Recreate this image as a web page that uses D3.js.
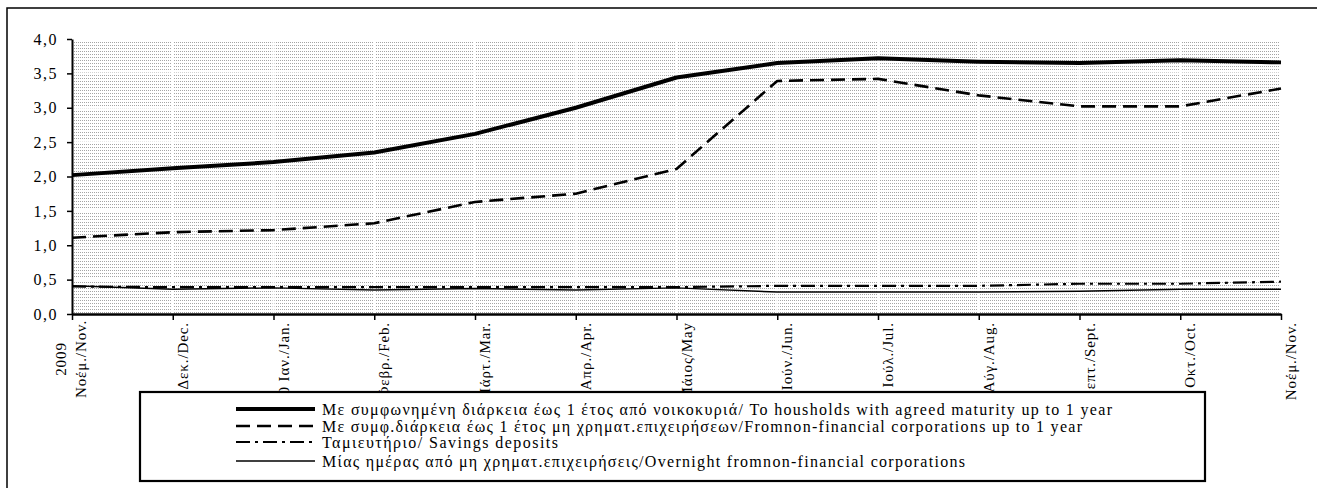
<!DOCTYPE html>
<html><head><meta charset="utf-8">
<script src="https://cdn.jsdelivr.net/npm/d3@7"></script>
<style>html,body{margin:0;padding:0;background:#fff;}svg{display:block;}svg text{font-family:"Liberation Serif","Times New Roman",serif;}</style>
</head><body><svg id="c" width="1317" height="488"></svg>
<script>
const categories = ["2009 Νοέμ./Nov.","Δεκ./Dec.","2010 Ιαν./Jan.","Φεβρ./Feb.","Μάρτ./Mar.","Απρ./Apr.","Μάιος/May","Ιούν./Jun.","Ιούλ./Jul.","Αύγ./Aug.","Σεπτ./Sept.","Οκτ./Oct.","Νοέμ./Nov."];
const households = [2.02, 2.12, 2.21, 2.35, 2.62, 3.00, 3.44, 3.65, 3.72, 3.67, 3.65, 3.69, 3.66];
const corporations = [1.11, 1.19, 1.22, 1.32, 1.63, 1.75, 2.11, 3.39, 3.42, 3.18, 3.02, 3.02, 3.28];
const savings = [0.40, 0.39, 0.39, 0.39, 0.39, 0.39, 0.39, 0.41, 0.41, 0.41, 0.44, 0.44, 0.47];
const overnight = [0.41, 0.36, 0.38, 0.35, 0.37, 0.35, 0.38, 0.32, 0.32, 0.32, 0.33, 0.36, 0.36];
const yTicks = [0, 0.5, 1, 1.5, 2, 2.5, 3, 3.5, 4];
const seriesNames = [
  "Με συμφωνημένη διάρκεια έως 1 έτος από νοικοκυριά/ To housholds with agreed maturity up to 1 year",
  "Με συμφ.διάρκεια έως 1 έτος μη χρηματ.επιχειρήσεων/Fromnon-financial corporations up to 1 year",
  "Ταμιευτήριο/ Savings deposits",
  "Μίας ημέρας από μη χρηματ.επιχειρήσεις/Overnight fromnon-financial corporations"
];

const FONT = "Liberation Serif";
const svg = d3.select("#c");
const L = 72, R = 1281, T = 39, B = 314;
const x = d3.scalePoint().domain(categories).range([L, R]);
const y = d3.scaleLinear().domain([0, 4]).range([B, T]);

// outer frame
svg.append("rect").attr("x", 7).attr("y", 8).attr("width", 1400).attr("height", 600)
  .attr("fill", "none").attr("stroke", "#000").attr("stroke-width", 1.5);

// dotted pattern
const defs = svg.append("defs");
const pat = defs.append("pattern").attr("id", "dots").attr("patternUnits", "userSpaceOnUse")
  .attr("width", 2).attr("height", 3);
pat.append("rect").attr("width", 2).attr("height", 3).attr("fill", "#fff");
pat.append("rect").attr("width", 1).attr("height", 1).attr("fill", "#a4a4a4");

svg.append("rect").attr("x", L).attr("y", T).attr("width", R - L).attr("height", B - T)
  .attr("fill", "url(#dots)");

// white gridlines
const g = svg.append("g");
g.selectAll(".vg").data(categories).join("line")
  .attr("x1", d => x(d)).attr("x2", d => x(d)).attr("y1", T).attr("y2", B)
  .attr("stroke", "#fff").attr("stroke-width", 2);
g.selectAll(".hg").data(yTicks).join("line")
  .attr("x1", L).attr("x2", R).attr("y1", d => y(d)).attr("y2", d => y(d))
  .attr("stroke", "#fff").attr("stroke-width", 2);

// series
const styles = [
  {data: households, w: 4, dash: null},
  {data: corporations, w: 2.6, dash: "14,7"},
  {data: savings, w: 2.2, dash: "14,5,3,5"},
  {data: overnight, w: 1.5, dash: null}
];
const line = d3.line().x((d, i) => x(categories[i])).y(d => y(d));
[3, 2, 1, 0].forEach(k => {
  const s = styles[k];
  svg.append("path").attr("d", line(s.data)).attr("fill", "none")
    .attr("stroke", "#000").attr("stroke-width", s.w)
    .attr("stroke-dasharray", s.dash).attr("stroke-linejoin", "round");
});

// y axis
const yAxis = d3.axisLeft(y).tickValues(yTicks).tickSize(5).tickSizeOuter(0)
  .tickFormat(d => d3.format(".1f")(d).replace(".", ","));
const ya = svg.append("g").attr("transform", `translate(${L},0)`).call(yAxis)
  .attr("font-family", FONT).attr("font-size", 16);
ya.select(".domain").attr("stroke-width", 2);
ya.selectAll(".tick line").attr("stroke-width", 1.5);
ya.selectAll("text").attr("font-size", 16).attr("font-family", FONT)
  .attr("fill", "#000").attr("x", -14).attr("letter-spacing", 1.5);

// x axis
const xAxis = d3.axisBottom(x).tickSize(6).tickSizeOuter(0).tickFormat("");
const xa = svg.append("g").attr("transform", `translate(0,${B})`).call(xAxis);
xa.select(".domain").attr("stroke-width", 2.5);
xa.selectAll(".tick line").attr("stroke-width", 1.5);

// x labels (rotated)
const xl = svg.append("g").attr("font-size", 15).attr("font-family", FONT)
  .attr("fill", "#000").attr("letter-spacing", 0.9);
categories.forEach((c, i) => {
  const cx = x(c);
  if (i === 0) {
    const parts = c.split(" ");
    xl.append("text").attr("transform", `translate(${cx - 11},359) rotate(-90)`)
      .attr("text-anchor", "middle").attr("dominant-baseline", "central").text(parts[0]);
    xl.append("text").attr("transform", `translate(${cx + 9},359) rotate(-90)`)
      .attr("text-anchor", "middle").attr("dominant-baseline", "central").text(parts[1]);
  } else {
    xl.append("text").attr("transform", `translate(${cx + 10},322) rotate(-90)`)
      .attr("text-anchor", "end").attr("dominant-baseline", "central").text(c);
  }
});

// legend
const lg = svg.append("g").attr("font-family", FONT);
lg.append("rect").attr("x", 140).attr("y", 392).attr("width", 1065).attr("height", 89)
  .attr("fill", "#fff").attr("stroke", "#000").attr("stroke-width", 2.2);
const rowsY = [409, 426, 442, 461];
const textLens = [790, 760, 236, 643];
seriesNames.forEach((n, i) => {
  const s = styles[i];
  lg.append("line").attr("x1", 236).attr("x2", 315).attr("y1", rowsY[i]).attr("y2", rowsY[i])
    .attr("stroke", "#000").attr("stroke-width", s.w).attr("stroke-dasharray", s.dash);
  lg.append("text").attr("x", 322).attr("y", rowsY[i]).attr("dominant-baseline", "central")
    .attr("font-size", 16).attr("font-family", FONT).attr("fill", "#000").text(n)
    .attr("textLength", textLens[i]).attr("lengthAdjust", "spacing");
});
</script></body></html>
